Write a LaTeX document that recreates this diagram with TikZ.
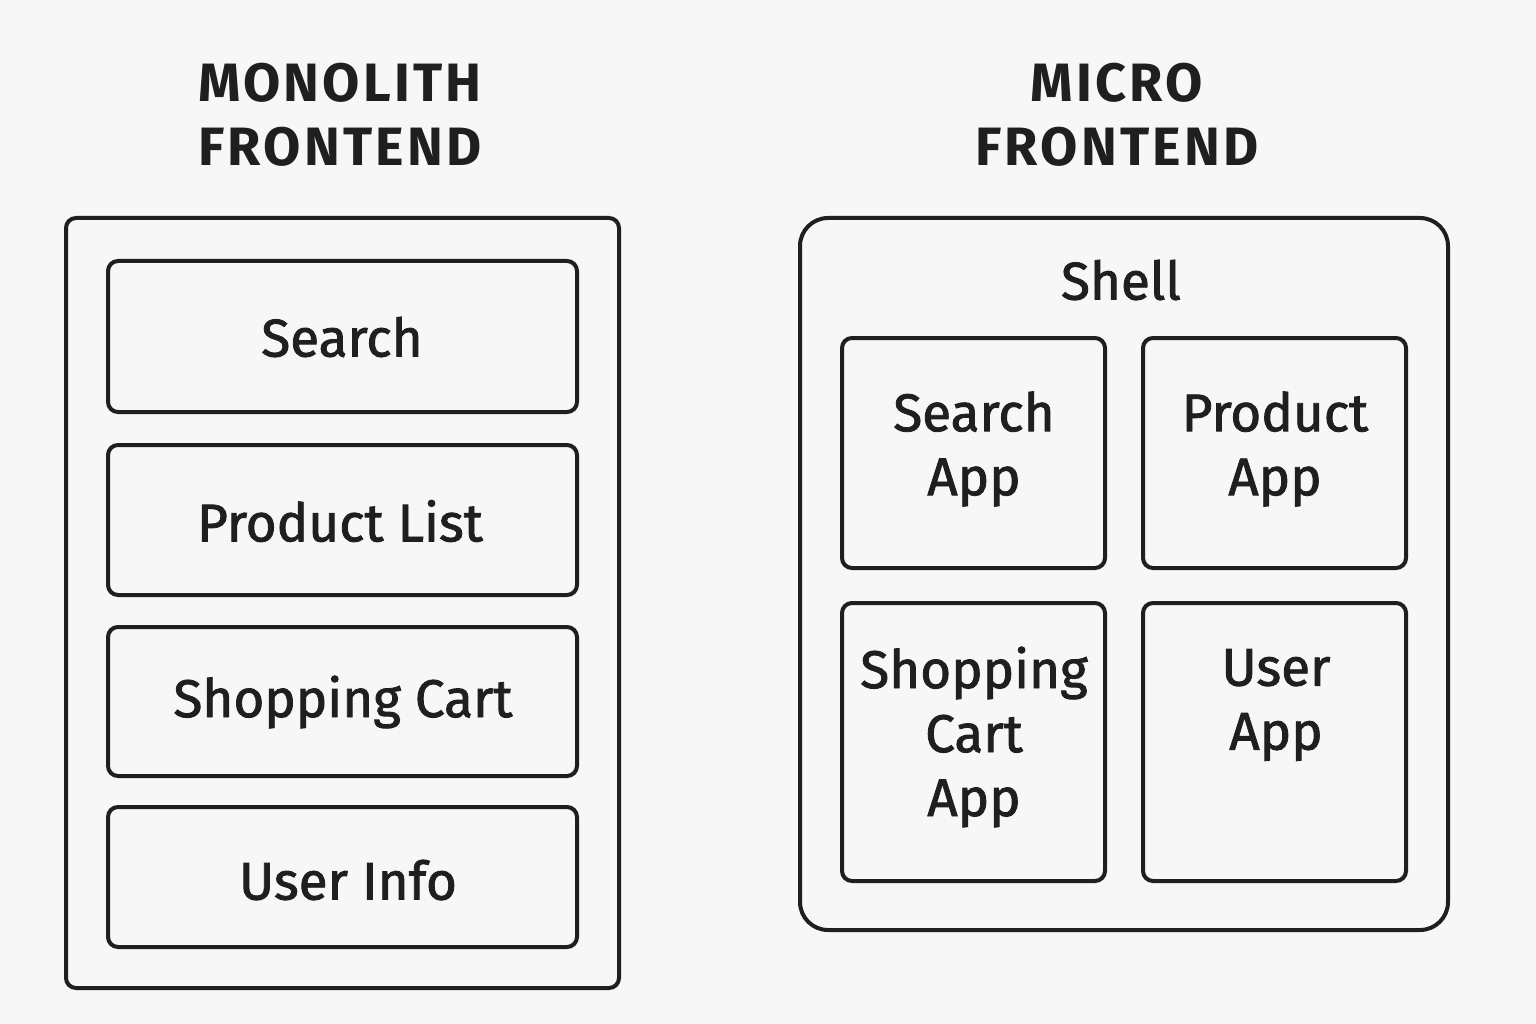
\documentclass[tikz,border=0pt]{standalone}
\usepackage{fontspec}
\setmainfont{Fira Sans}
\newfontfamily\medfont{Fira Sans}[FakeBold=1.6]
\newfontfamily\ttlfont{Fira Sans}[LetterSpace=6]
\begin{document}
\begin{tikzpicture}[x=1pt,y=-1pt,
  box/.style={draw=black!88,line width=4pt,rounded corners=10pt},
  lbl/.style={font=\medfont\fontsize{53}{64}\selectfont,text=black!88,align=center},
  ttl/.style={font=\ttlfont\fontsize{54}{64}\selectfont\bfseries,text=black!88,align=center}]
\fill[white!97!black] (0,0) rectangle (1536,1024);
\useasboundingbox (0,0) rectangle (1536,1024);
% Monolith
\node[ttl] (t1) at (340,115) {MONOLITH\\FRONTEND};
\draw[box] (66,218) rectangle (619,988);
\draw[box] (108,261) rectangle (577,412); \node[lbl] (m1) at (342,337) {Search};
\draw[box] (108,445) rectangle (577,595); \node[lbl] (m2) at (340,521) {Product List};
\draw[box] (108,627) rectangle (577,776); \node[lbl] (m3) at (343,702) {Shopping Cart};
\draw[box] (108,807) rectangle (577,947); \node[lbl] (m4) at (348,880) {User Info};
% Micro
\node[ttl] (t2) at (1117,115) {MICRO\\FRONTEND};
\draw[box,rounded corners=28pt] (800,218) rectangle (1448,930);
\node[lbl] (sh) at (1121,280) {Shell};
\draw[box] (842,338) rectangle (1105,568); \node[lbl] (a1) at (974,449) {Search\\App};
\draw[box] (1143,338) rectangle (1406,568); \node[lbl] (a2) at (1275,449) {Product\\App};
\draw[box] (842,603) rectangle (1105,881); \node[lbl] (a3) at (974,737) {Shopping\\Cart\\App};
\draw[box] (1143,603) rectangle (1406,881); \node[lbl] (a4) at (1276,705) {User\\App};
\end{tikzpicture}
\end{document}
